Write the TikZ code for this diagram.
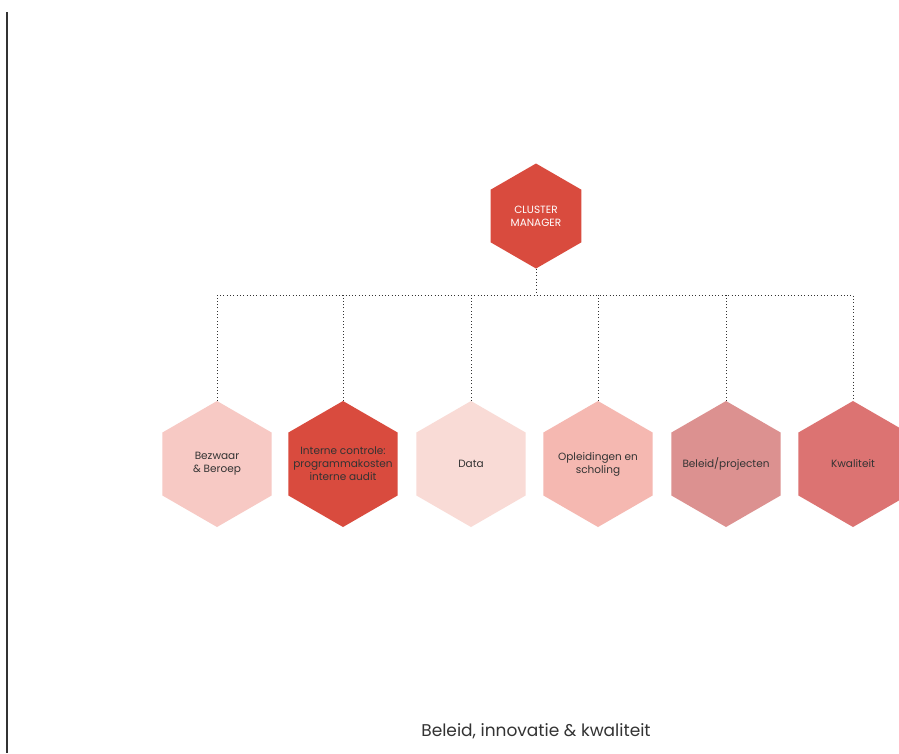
\documentclass[tikz,border=0pt]{standalone}
\usepackage{fontspec}
\setmainfont{Poppins}
\usetikzlibrary{shapes.geometric}
\definecolor{redA}{HTML}{D94B3E}
\definecolor{pinkA}{HTML}{F7C9C4}
\definecolor{pinkB}{HTML}{F9DBD6}
\definecolor{pinkC}{HTML}{F5B8B1}
\definecolor{roseA}{HTML}{DC9190}
\definecolor{roseB}{HTML}{DC7372}
\definecolor{ink}{HTML}{333333}
\begin{document}
\begin{tikzpicture}[x=1pt,y=-1pt,
  hexbase/.style={regular polygon, regular polygon sides=6, shape border rotate=30,
    inner sep=0pt, draw=none},
  bighex/.style={hexbase, minimum size=126pt},
  tophex/.style={hexbase, minimum size=105pt},
  hexlabel/.style={align=center, text=ink, font=\fontsize{10.5}{13}\selectfont},
  toplabel/.style={align=center, text=white, font=\fontsize{10.5}{13}\selectfont},
  conn/.style={line width=0.8pt, ink, dash pattern=on 0.9pt off 2.4pt}]
  % page
  \fill[white] (0,0) rectangle (899,753);
  \useasboundingbox (0,0) rectangle (899,753);
  \draw[ink, line width=1.3pt] (7,12) -- (7,753);

  % manager
  \node[tophex, fill=redA, label={[toplabel]center:CLUSTER\\MANAGER}] (cm) at (536,216) {};

  % teams
  \node[bighex, fill=pinkA, label={[hexlabel]center:Bezwaar\\\& Beroep}] (h1) at (217,464) {};
  \node[bighex, fill=redA,  label={[hexlabel]center:Interne controle:\\programmakosten\\interne audit}] (h2) at (343,464) {};
  \node[bighex, fill=pinkB, label={[hexlabel]center:Data}] (h3) at (471,464) {};
  \node[bighex, fill=pinkC, label={[hexlabel]center:Opleidingen en\\scholing}] (h4) at (598,464) {};
  \node[bighex, fill=roseA, label={[hexlabel]center:Beleid/projecten}] (h5) at (726,464) {};
  \node[bighex, fill=roseB, label={[hexlabel]center:Kwaliteit}] (h6) at (853,464) {};

  % connectors
  \coordinate (bus) at (536,295);
  \draw[conn] (cm.south) -- (cm.south |- bus);
  \draw[conn] (h1.north) -- (h1.north |- bus) -- (h6.north |- bus) -- (h6.north);
  \foreach \h in {h2,h3,h4,h5}
    \draw[conn] (\h.north) -- (\h.north |- bus);

  % title
  \node[text=ink, font=\fontsize{17}{20}\selectfont] (title) at (536,731) {Beleid, innovatie \& kwaliteit};
\end{tikzpicture}
\end{document}
